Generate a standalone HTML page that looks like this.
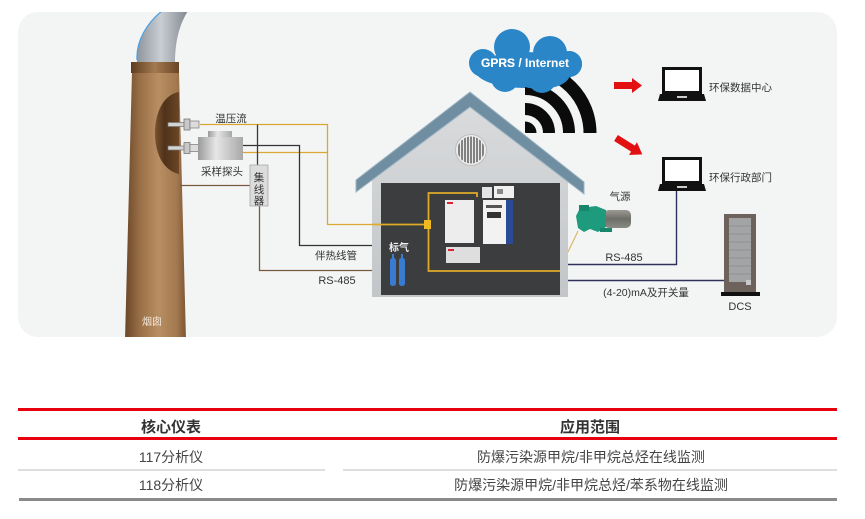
<!DOCTYPE html>
<html><head><meta charset="utf-8">
<style>
html,body{margin:0;padding:0;background:#fff;}
body{width:865px;height:519px;overflow:hidden;}
svg{display:block;}
text{font-family:"Liberation Sans","Noto Sans CJK SC",sans-serif;}
</style></head>
<body>
<svg width="865" height="519" viewBox="0 0 865 519" xmlns="http://www.w3.org/2000/svg">
<defs>
  <linearGradient id="chim" x1="0" y1="0" x2="1" y2="0">
    <stop offset="0" stop-color="#6c4727"/>
    <stop offset="0.25" stop-color="#9a7048"/>
    <stop offset="0.55" stop-color="#b88e62"/>
    <stop offset="0.85" stop-color="#a27850"/>
    <stop offset="1" stop-color="#7e5634"/>
  </linearGradient>
  <linearGradient id="cap" x1="0" y1="0" x2="1" y2="0">
    <stop offset="0" stop-color="#5e3d20"/>
    <stop offset="0.5" stop-color="#a37a50"/>
    <stop offset="1" stop-color="#6a4526"/>
  </linearGradient>
  <linearGradient id="smoke" x1="0" y1="0" x2="1" y2="0">
    <stop offset="0" stop-color="#8e959c"/>
    <stop offset="0.45" stop-color="#c9ced3"/>
    <stop offset="1" stop-color="#7c838a"/>
  </linearGradient>
  <linearGradient id="hole" x1="0" y1="0" x2="1" y2="0">
    <stop offset="0" stop-color="#7a5230"/>
    <stop offset="0.4" stop-color="#4f321a"/>
    <stop offset="1" stop-color="#6b4626"/>
  </linearGradient>
  <linearGradient id="box" x1="0" y1="0" x2="1" y2="0">
    <stop offset="0" stop-color="#9a9a9a"/>
    <stop offset="0.4" stop-color="#e6e6e6"/>
    <stop offset="1" stop-color="#a8a8a8"/>
  </linearGradient>
  <linearGradient id="wall" x1="0" y1="0" x2="0" y2="1">
    <stop offset="0" stop-color="#d9dbdd"/>
    <stop offset="1" stop-color="#c3c6c8"/>
  </linearGradient>
  <linearGradient id="motor" x1="0" y1="0" x2="0" y2="1">
    <stop offset="0" stop-color="#9a9a92"/>
    <stop offset="0.5" stop-color="#6e6e68"/>
    <stop offset="1" stop-color="#8a8a84"/>
  </linearGradient>
  <clipPath id="panelclip"><rect x="18" y="12" width="819" height="325" rx="20"/></clipPath>
  <clipPath id="ventclip"><circle cx="471" cy="150" r="13.5"/></clipPath>
</defs>

<!-- panel -->
<rect x="18" y="12" width="819" height="325" rx="20" fill="#f3f5f5"/>

<g clip-path="url(#panelclip)">
  <!-- smoke -->
  <path d="M137,63 C136,42 146,22 166,8 L190,8 C180,22 175,40 175,63 Z" fill="url(#smoke)"/>
  <path d="M137,60 C136,42 146,22 166,8" fill="none" stroke="#4a9fe0" stroke-width="1.2"/>
  <!-- chimney body -->
  <polygon points="132,72 179,72 186,340 125,340" fill="url(#chim)"/>
  <!-- cap -->
  <rect x="131" y="62" width="48" height="11" fill="url(#cap)"/>
  <!-- opening -->
  <path d="M179,92 C162,95 155,115 155,133 C155,152 162,170 179,174 Z" fill="url(#hole)"/>
</g>
<text x="152" y="325" font-size="10" fill="#f2e6d8" text-anchor="middle">烟囱</text>

<!-- connector lines left -->
<g fill="none">
  <path d="M200,124.5 H327.5 V224.5 H428" stroke="#d9a832" stroke-width="1.3"/>
  <path d="M243,152.5 H327.5" stroke="#d9a832" stroke-width="1.3"/>
  <path d="M257.5,124.5 V166" stroke="#3a3a3a" stroke-width="1.3"/>
  <path d="M243,145.5 H299.5 V245.5 H373" stroke="#333" stroke-width="1.3"/>
  <path d="M180,185.5 H250" stroke="#7a5a3c" stroke-width="1.3"/>
  <path d="M259.5,206 V270.5 H373" stroke="#7a5a3c" stroke-width="1.3"/>
</g>

<!-- probes -->
<g>
  <rect x="168" y="122.5" width="18" height="4" fill="#d4d4d4" stroke="#777" stroke-width="0.7"/>
  <rect x="184" y="119" width="6" height="11" fill="#c8c8c8" stroke="#6a6a6a" stroke-width="0.7"/>
  <rect x="190" y="121" width="9" height="7" fill="#dcdcdc" stroke="#777" stroke-width="0.7"/>
  <rect x="168" y="146" width="18" height="4" fill="#d4d4d4" stroke="#777" stroke-width="0.7"/>
  <rect x="184" y="142.5" width="6" height="11" fill="#c8c8c8" stroke="#6a6a6a" stroke-width="0.7"/>
  <rect x="190" y="144.5" width="9" height="7" fill="#dcdcdc" stroke="#777" stroke-width="0.7"/>
  <!-- sampling probe box -->
  <rect x="208" y="131" width="24" height="7" fill="url(#box)"/>
  <rect x="198" y="137" width="45" height="23" fill="url(#box)"/>
</g>
<text x="231" y="122" font-size="10.5" fill="#333" text-anchor="middle">温压流</text>
<text x="222" y="175" font-size="10.5" fill="#333" text-anchor="middle">采样探头</text>

<!-- 集线器 -->
<rect x="250" y="165" width="18" height="41" fill="#dcdcdc" stroke="#a8a8a8" stroke-width="0.8"/>
<text x="259" y="181" font-size="10.5" fill="#333" text-anchor="middle">集</text>
<text x="259" y="193" font-size="10.5" fill="#333" text-anchor="middle">线</text>
<text x="259" y="204" font-size="10.5" fill="#333" text-anchor="middle">器</text>

<text x="336" y="259" font-size="10.5" fill="#333" text-anchor="middle">伴热线管</text>
<text x="337" y="284" font-size="11" fill="#333" text-anchor="middle">RS-485</text>

<!-- house -->
<polygon points="372,297 372,172 470,101 568,180 568,297" fill="url(#wall)"/>
<polygon points="356,180 470,92 584,182 584,194 470,107 356,192" fill="#6f8ea2" stroke="#9fb4c2" stroke-width="1"/>
<!-- vent -->
<circle cx="471" cy="150" r="15.5" fill="#ececec" stroke="#bdbdbd" stroke-width="1"/>
<g clip-path="url(#ventclip)" stroke="#4a4a4a" stroke-width="1.3">
  <line x1="459" y1="130" x2="459" y2="170"/><line x1="462" y1="130" x2="462" y2="170"/>
  <line x1="465" y1="130" x2="465" y2="170"/><line x1="468" y1="130" x2="468" y2="170"/>
  <line x1="471" y1="130" x2="471" y2="170"/><line x1="474" y1="130" x2="474" y2="170"/>
  <line x1="477" y1="130" x2="477" y2="170"/><line x1="480" y1="130" x2="480" y2="170"/>
  <line x1="483" y1="130" x2="483" y2="170"/>
</g>
<!-- dark interior -->
<rect x="381" y="183" width="179" height="112" fill="#3b3d3f"/>
<!-- yellow loop -->
<g fill="none" stroke="#e0aa28" stroke-width="1.8">
  <path d="M372,224.5 H428"/>
  <path d="M477,197 V193 H428.5 V271 H560"/>
</g>
<rect x="424" y="220" width="7" height="9" fill="#f0b820"/>
<!-- instruments -->
<rect x="482" y="187" width="10" height="11" fill="#e4e4e4"/>
<rect x="494" y="186" width="20" height="12" fill="#f0f0f0"/>
<rect x="497" y="189" width="6" height="5" fill="#888"/>
<rect x="445" y="200" width="29" height="43" fill="#ededed"/>
<rect x="447" y="202" width="6" height="2" fill="#d23"/>
<rect x="446" y="247" width="34" height="16" fill="#dedede"/>
<rect x="448" y="249" width="6" height="2" fill="#d23"/>
<rect x="483" y="200" width="23" height="44" fill="#f2f2f2"/>
<rect x="486" y="205" width="16" height="3" fill="#555"/>
<rect x="487" y="212" width="14" height="6" fill="#333"/>
<rect x="506" y="200" width="7" height="44" fill="#2b4a96"/>
<!-- cylinders -->
<text x="399" y="251" font-size="10" fill="#f0f0f0" text-anchor="middle" font-weight="bold">标气</text>
<rect x="390" y="258" width="6" height="28" rx="2.5" fill="#3a7bd2"/>
<rect x="399" y="258" width="6" height="28" rx="2.5" fill="#3a7bd2"/>
<rect x="392" y="254" width="2" height="5" fill="#3a7bd2"/>
<rect x="401" y="254" width="2" height="5" fill="#3a7bd2"/>

<!-- cloud -->
<g fill="#2b86c8">
  <ellipse cx="525" cy="70" rx="50" ry="18"/>
  <circle cx="512" cy="47" r="18"/>
  <circle cx="550" cy="53" r="17"/>
  <circle cx="483" cy="63" r="14"/>
  <circle cx="569" cy="64" r="13"/>
  <circle cx="505" cy="78" r="14"/>
  <circle cx="542" cy="79" r="14"/>
</g>
<text x="525" y="67" font-size="12" font-weight="bold" fill="#fff" text-anchor="middle">GPRS / Internet</text>

<!-- wifi -->
<g fill="none" stroke="#0b0b0b">
  <path d="M525,127 A6,6 0 0 1 531,133" stroke-width="11"/>
  <path d="M525,109 A24,24 0 0 1 549,133" stroke-width="12"/>
  <path d="M525,89 A44,44 0 0 1 569,133" stroke-width="12"/>
  <path d="M525,68 A65,65 0 0 1 590,133" stroke-width="13"/>
</g>
<!-- cloud overlay to cover arcs tops -->
<g fill="#2b86c8">
  <circle cx="542" cy="79" r="14"/>
  <circle cx="569" cy="64" r="13"/>
  <ellipse cx="540" cy="74" rx="30" ry="15"/>
</g>
<text x="525" y="67" font-size="12" font-weight="bold" fill="#fff" text-anchor="middle">GPRS / Internet</text>

<!-- red arrows -->
<polygon points="614,82 632,82 632,78 642,85.5 632,93 632,89 614,89" fill="#e21010"/>
<polygon points="0,-3.5 20,-3.5 20,-7.5 31,0 20,7.5 20,3.5 0,3.5" fill="#e21010" transform="translate(616,138) rotate(32)"/>

<!-- laptops -->
<g>
  <rect x="663.5" y="68.5" width="37" height="24" fill="#fff" stroke="#111" stroke-width="3"/>
  <polygon points="660,94 704,94 706,101 658,101" fill="#111"/>
  <rect x="677" y="96" width="10" height="2" fill="#ccc"/>
  <rect x="663.5" y="158.5" width="37" height="24" fill="#fff" stroke="#111" stroke-width="3"/>
  <polygon points="660,184 704,184 706,191 658,191" fill="#111"/>
  <rect x="677" y="186" width="10" height="2" fill="#ccc"/>
</g>
<text x="709" y="91" font-size="10.5" fill="#333">环保数据中心</text>
<text x="709" y="181" font-size="10.5" fill="#333">环保行政部门</text>

<!-- right lines -->
<g fill="none" stroke="#30305c" stroke-width="1.4">
  <path d="M568,264.5 H676.5 V191"/>
  <path d="M568,280.5 H725"/>
</g>
<path d="M578,231 L568,252" stroke="#d9b050" stroke-width="1" fill="none"/>
<text x="624" y="261" font-size="11" fill="#333" text-anchor="middle">RS-485</text>
<text x="646" y="296" font-size="10.5" fill="#333" text-anchor="middle">(4-20)mA及开关量</text>

<!-- pump -->
<text x="620" y="200" font-size="10.5" fill="#333" text-anchor="middle">气源</text>
<rect x="604" y="210" width="27" height="18" rx="5" fill="url(#motor)"/>
<polygon points="580,208 596,206 606,210 606,227 598,232 590,229 584,232 578,228 576,216" fill="#1e9a7c"/>
<rect x="579" y="205" width="10" height="6" fill="#17866a"/>
<rect x="600" y="228" width="12" height="4" fill="#17866a"/>

<!-- DCS -->
<rect x="724" y="214" width="32" height="78" fill="#6e625c"/>
<rect x="729" y="218" width="22" height="64" fill="#a3a4a6"/>
<g stroke="#8a8b8d" stroke-width="0.8">
  <line x1="729" y1="226" x2="751" y2="226"/><line x1="729" y1="234" x2="751" y2="234"/>
  <line x1="729" y1="242" x2="751" y2="242"/><line x1="729" y1="250" x2="751" y2="250"/>
  <line x1="729" y1="258" x2="751" y2="258"/><line x1="729" y1="266" x2="751" y2="266"/>
  <line x1="729" y1="274" x2="751" y2="274"/>
</g>
<rect x="746" y="280" width="5" height="5" fill="#c8c8c8"/>
<rect x="721" y="292" width="39" height="4" fill="#111"/>
<text x="740" y="310" font-size="11" fill="#333" text-anchor="middle">DCS</text>

<!-- table -->
<rect x="18" y="408" width="819" height="3" fill="#e8000f"/>
<text x="171" y="432" font-size="15" font-weight="bold" fill="#333" text-anchor="middle">核心仪表</text>
<text x="590" y="432" font-size="15" font-weight="bold" fill="#333" text-anchor="middle">应用范围</text>
<rect x="18" y="437" width="819" height="3" fill="#e8000f"/>
<text x="171" y="462" font-size="14" fill="#444" text-anchor="middle">117分析仪</text>
<text x="591" y="462" font-size="14" fill="#444" text-anchor="middle">防爆污染源甲烷/非甲烷总烃在线监测</text>
<rect x="18" y="469" width="307" height="2" fill="#dedede"/>
<rect x="343" y="469" width="494" height="2" fill="#dedede"/>
<text x="171" y="490" font-size="14" fill="#444" text-anchor="middle">118分析仪</text>
<text x="591" y="490" font-size="14" fill="#444" text-anchor="middle">防爆污染源甲烷/非甲烷总烃/苯系物在线监测</text>
<rect x="19" y="498" width="818" height="3" fill="#8a8a8a"/>
</svg>
</body></html>
